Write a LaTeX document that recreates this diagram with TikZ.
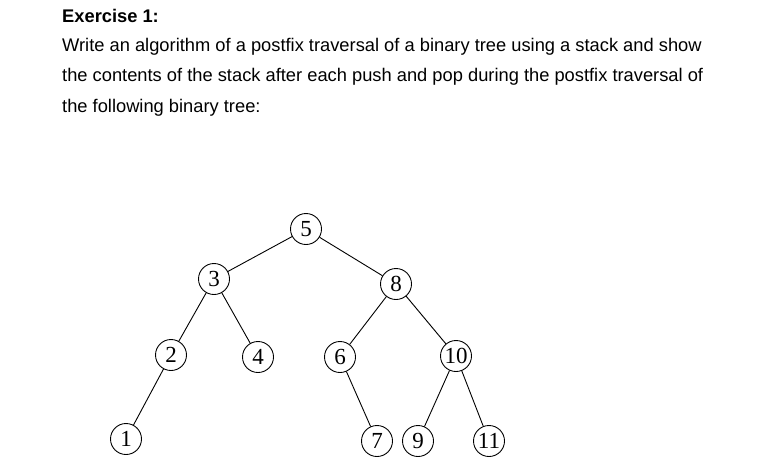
\documentclass[tikz,border=0pt]{standalone}
\usepackage{fontspec}
\setmainfont{Liberation Sans}
\newfontfamily\treefont{Liberation Serif}
\begin{document}
\begin{tikzpicture}[x=1pt,y=-1pt,
  tn/.style={circle,draw,line width=0.9pt,inner sep=0pt,minimum size=31pt,font=\treefont\fontsize{23}{23}\selectfont},
  txt/.style={anchor=west,inner sep=0pt,font=\fontsize{18.3}{18.3}\selectfont},
  ed/.style={line width=0.9pt}]
\useasboundingbox (0,0) rectangle (767,464);
\node[txt,font=\bfseries\fontsize{18.3}{18.3}\selectfont] (t0) at (62,16) {Exercise 1:};
\node[txt] (t1) at (62,47) {Write an algorithm of a postfix traversal of a binary tree using a stack and show};
\node[txt] (t2) at (62,77) {the contents of the stack after each push and pop during the postfix traversal of};
\node[txt] (t3) at (62,108) {the following binary tree:};
\node[tn] (n5) at (306,229) {5};
\node[tn] (n3) at (214,279) {3};
\node[tn] (n8) at (396,284) {8};
\node[tn] (n2) at (171,355) {2};
\node[tn] (n4) at (258,357) {4};
\node[tn] (n6) at (340,357) {6};
\node[tn] (n10) at (456,356) {10};
\node[tn] (n1) at (126,439) {1};
\node[tn] (n7) at (377,441) {7};
\node[tn] (n9) at (418,441) {9};
\node[tn] (n11) at (489,441) {11};
\foreach \a/\b in {n5/n3,n5/n8,n3/n2,n3/n4,n2/n1,n8/n6,n8/n10,n6/n7,n10/n9,n10/n11}
  \draw[ed] (\a) -- (\b);
\end{tikzpicture}
\end{document}
